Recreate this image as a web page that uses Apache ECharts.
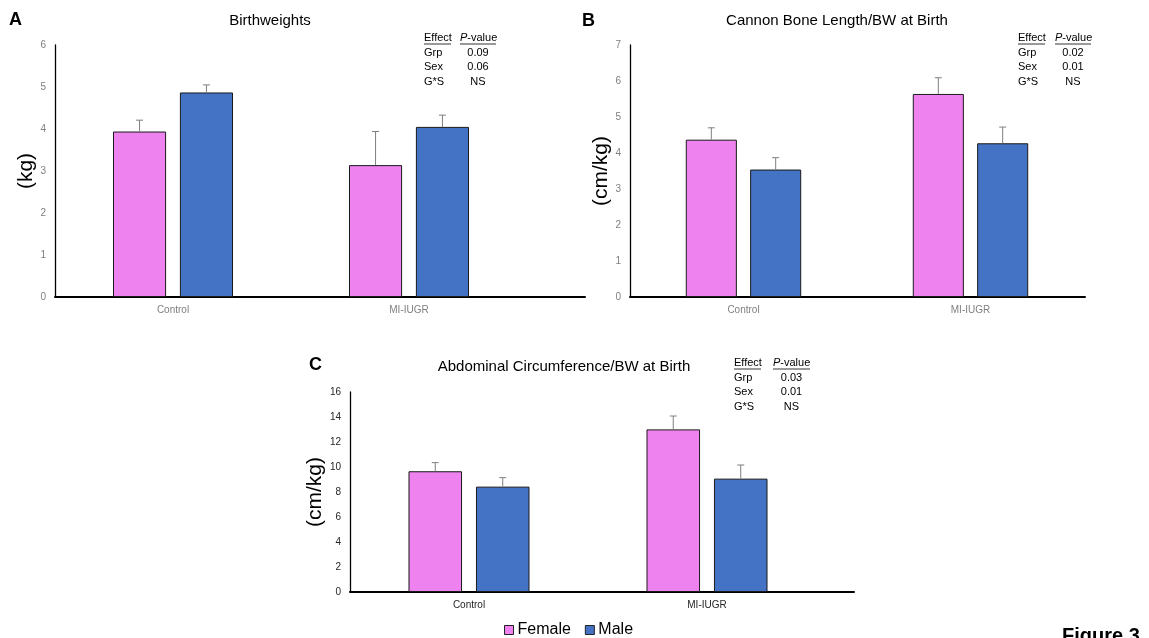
<!DOCTYPE html>
<html>
<head>
<meta charset="utf-8">
<script src="https://cdn.jsdelivr.net/npm/echarts@6/dist/echarts.min.js"></script>
<style>
  html, body { margin: 0; padding: 0; background: #fff; }
  #chart { width: 1149px; height: 638px; }
</style>
</head>
<body>
<div id="chart"></div>
<script>
// groups on the x axis
var categories = ['Control', 'MI-IUGR'];

// A: birthweights (kg), mean and upper error (SE)
var bwFemale = [3.94, 3.14];
var bwFemaleErr = [0.27, 0.80];
var bwMale = [4.87, 4.05];
var bwMaleErr = [0.18, 0.28];

// B: cannon bone length / BW (cm/kg)
var cbFemale = [4.37, 5.64];
var cbFemaleErr = [0.33, 0.45];
var cbMale = [3.54, 4.27];
var cbMaleErr = [0.33, 0.45];

// C: abdominal circumference / BW (cm/kg)
var acFemale = [9.66, 13.01];
var acFemaleErr = [0.69, 1.07];
var acMale = [8.43, 9.07];
var acMaleErr = [0.72, 1.09];

// stats tables
var effects = ['Grp', 'Sex', 'G*S'];
var pA = ['0.09', '0.06', 'NS'];
var pB = ['0.02', '0.01', 'NS'];
var pC = ['0.03', '0.01', 'NS'];

var FONT = '"Liberation Sans", Arial, sans-serif';
var PINK = '#EE82EE';
var BLUE = '#4472C4';
var BAR_W = 0.225, BAR_GAP = 0.26;

var myChart = echarts.init(document.getElementById('chart'));

function errRender(sign) {
  return function (params, api) {
    var x = api.value(0);
    var base = api.coord([x, api.value(1)]);
    var top = api.coord([x, api.value(2)]);
    var band = api.size([1, 0])[0];
    var cx = base[0] + sign * band * BAR_W * (1 + BAR_GAP) / 2;
    return {
      type: 'group',
      children: [
        { type: 'line', shape: { x1: cx, y1: base[1], x2: cx, y2: top[1] }, style: { stroke: '#7f7f7f', lineWidth: 1 } },
        { type: 'line', shape: { x1: cx - 3.5, y1: top[1], x2: cx + 3.5, y2: top[1] }, style: { stroke: '#7f7f7f', lineWidth: 1 } }
      ]
    };
  };
}

function errData(mean, err) {
  return categories.map(function (c, i) { return [i, mean[i], +(mean[i] + err[i]).toFixed(2)]; });
}

var grids = [], xAxes = [], yAxes = [], series = [];

// p: grid layout, extra: width of the longer x axis line
function addPanel(p) {
  var gi = grids.length;
  grids.push({ left: p.left, top: p.top, width: p.width, height: p.height });
  grids.push({ left: p.left, top: p.top, width: p.lineWidth, height: p.height });
  xAxes.push({
    type: 'category', gridIndex: gi, data: categories,
    axisLine: { show: false }, axisTick: { show: false },
    axisLabel: { color: p.labelColor, fontSize: 10, fontFamily: FONT, margin: 8 }
  });
  xAxes.push({
    type: 'value', gridIndex: gi + 1, min: 0, max: 1, position: 'bottom',
    axisLine: { show: true, onZero: false, lineStyle: { color: '#000', width: 2 } },
    axisTick: { show: false }, axisLabel: { show: false }, splitLine: { show: false }
  });
  yAxes.push({
    type: 'value', gridIndex: gi, min: 0, max: p.max, interval: p.interval,
    name: p.yName, nameLocation: 'middle', nameGap: p.nameGap,
    nameTextStyle: { fontSize: 21, fontFamily: FONT, color: '#000' },
    axisLine: { show: true, lineStyle: { color: '#000', width: 1.3 } },
    axisTick: { show: false }, splitLine: { show: false },
    axisLabel: { color: p.labelColor, fontSize: 10, fontFamily: FONT, margin: 9 }
  });
  yAxes.push({ type: 'value', gridIndex: gi + 1, min: 0, max: 1, show: false });

  var xi = gi, yi = gi;
  series.push({
    name: 'Female', type: 'bar', xAxisIndex: xi, yAxisIndex: yi, data: p.female,
    barWidth: (BAR_W * 100) + '%', barGap: (BAR_GAP * 100) + '%',
    itemStyle: { color: PINK, borderColor: '#1a1a1a', borderWidth: 1 }, z: 2
  });
  series.push({
    name: 'Male', type: 'bar', xAxisIndex: xi, yAxisIndex: yi, data: p.male,
    barWidth: (BAR_W * 100) + '%', barGap: (BAR_GAP * 100) + '%',
    itemStyle: { color: BLUE, borderColor: '#1a1a1a', borderWidth: 1 }, z: 2
  });
  series.push({
    type: 'custom', xAxisIndex: xi, yAxisIndex: yi, renderItem: errRender(-1),
    data: errData(p.female, p.femaleErr), z: 3, silent: true
  });
  series.push({
    type: 'custom', xAxisIndex: xi, yAxisIndex: yi, renderItem: errRender(1),
    data: errData(p.male, p.maleErr), z: 3, silent: true
  });
}

addPanel({ left: 55, top: 45, width: 472, lineWidth: 530, height: 252, max: 6, interval: 1,
  yName: '(kg)', nameGap: 18, labelColor: '#7f7f7f',
  female: bwFemale, femaleErr: bwFemaleErr, male: bwMale, maleErr: bwMaleErr });
addPanel({ left: 630, top: 45, width: 454, lineWidth: 455, height: 252, max: 7, interval: 1,
  yName: '(cm/kg)', nameGap: 17, labelColor: '#7f7f7f',
  female: cbFemale, femaleErr: cbFemaleErr, male: cbMale, maleErr: cbMaleErr });
addPanel({ left: 350, top: 392, width: 476, lineWidth: 504, height: 200, max: 16, interval: 2,
  yName: '(cm/kg)', nameGap: 24, labelColor: '#262626',
  female: acFemale, femaleErr: acFemaleErr, male: acMale, maleErr: acMaleErr });

function txt(text, x, y, size, opts) {
  opts = opts || {};
  return {
    type: 'text', x: x, y: y, silent: true,
    style: {
      text: text, fill: '#000', fontFamily: FONT, fontSize: size,
      fontWeight: opts.bold ? 'bold' : 'normal',
      textAlign: opts.align || 'left', textVerticalAlign: opts.valign || 'middle',
      rich: opts.rich
    }
  };
}

function statsTable(effLeft, pLeft, pRight, y0, pvals) {
  var out = [];
  var rich = { i: { fontStyle: 'italic', fontFamily: FONT, fontSize: 11 } };
  out.push(txt('Effect', effLeft, y0, 11));
  out.push(txt('{i|P}-value', pLeft, y0, 11, { rich: rich }));
  out.push({ type: 'line', silent: true, shape: { x1: effLeft, y1: y0 + 6, x2: effLeft + 27, y2: y0 + 6 }, style: { stroke: '#000', lineWidth: 0.8 } });
  out.push({ type: 'line', silent: true, shape: { x1: pLeft, y1: y0 + 6, x2: pRight, y2: y0 + 6 }, style: { stroke: '#000', lineWidth: 0.8 } });
  var mid = (pLeft + pRight) / 2;
  for (var i = 0; i < effects.length; i++) {
    var y = y0 + 14.5 * (i + 1);
    out.push(txt(effects[i], effLeft, y, 11));
    out.push(txt(pvals[i], mid, y, 11, { align: 'center' }));
  }
  return out;
}

var graphics = [
  txt('A', 9, 20, 18, { bold: true }),
  txt('B', 582, 21, 18, { bold: true }),
  txt('C', 309, 365, 18, { bold: true }),
  txt('Birthweights', 270, 21, 15, { align: 'center' }),
  txt('Cannon Bone Length/BW at Birth', 837, 21, 15, { align: 'center' }),
  txt('Abdominal Circumference/BW at Birth', 564, 367, 15, { align: 'center' }),
  txt('Figure 3', 1062, 626, 20, { bold: true, valign: 'top' })
].concat(statsTable(424, 460, 496, 38, pA))
 .concat(statsTable(1018, 1055, 1091, 38, pB))
 .concat(statsTable(734, 773, 810, 363, pC));

var option = {
  animation: false,
  backgroundColor: '#fff',
  textStyle: { fontFamily: FONT },
  legend: {
    data: ['Female', 'Male'],
    left: 504, top: 622, padding: 0,
    itemWidth: 9, itemHeight: 9, itemGap: 14,
    icon: 'rect',
    itemStyle: { borderColor: '#222', borderWidth: 1 },
    textStyle: { fontSize: 16, fontFamily: FONT, color: '#000', padding: [0, 0, 0, -1] }
  },
  grid: grids,
  xAxis: xAxes,
  yAxis: yAxes,
  series: series,
  graphic: graphics
};

myChart.setOption(option);
</script>
</body>
</html>
